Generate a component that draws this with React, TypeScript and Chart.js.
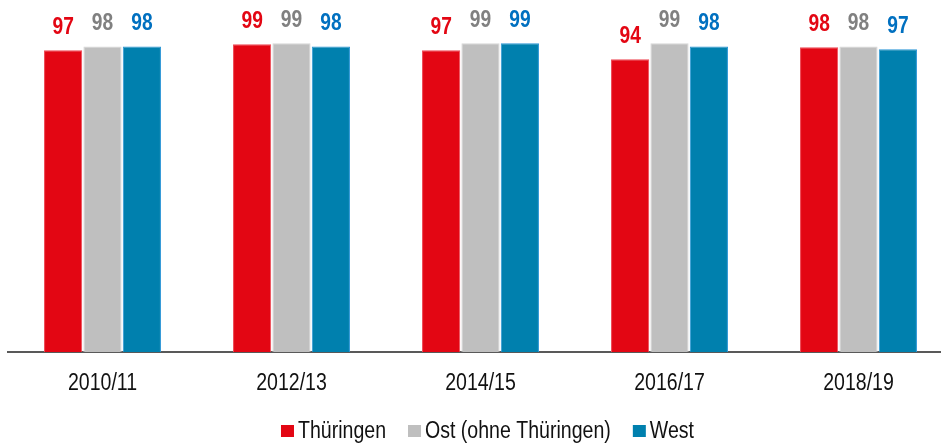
import React, { useEffect, useRef } from "react";
import { Chart, registerables } from "chart.js";

Chart.register(...registerables);

// ---- data ----
const categories = ["2010/11", "2012/13", "2014/15", "2016/17", "2018/19"];
const seriesNames = ["Thüringen", "Ost (ohne Thüringen)", "West"];
const thueringen = [96.9, 98.8, 96.9, 94.0, 97.8];
const ost = [98.1, 99.1, 99.1, 99.1, 98.1];
const west = [98.1, 98.1, 99.1, 98.1, 97.2];
const xTickPositions = [0, 1, 2, 3, 4];

// ---- styles ----
const FONT = '"Liberation Sans Narrow", "Arial Narrow", "Liberation Sans", Arial, sans-serif';
const barColors = ["#e30613", "#bfbfbf", "#0080ae"];
const borderColors = ["#ee4a55", "#d6d6d6", "#2a95d6"];
const labelColors = ["#e30613", "#808080", "#0070c0"];
const W = 941;
const H = 443;
const NARROW_TEXT = 0.85;
const NARROW_BOLD = 0.8;

function narrowText(ctx: any, text: string, x: number, y: number, sx: number) {
  ctx.save();
  ctx.translate(x, y);
  ctx.scale(sx, 1);
  ctx.fillText(text, 0, 0);
  ctx.restore();
}

const valueLabelPlugin = {
  id: "valueLabels",
  afterDatasetsDraw(chart: any) {
    const ctx = chart.ctx;
    ctx.save();
    ctx.font = `bold 24px ${FONT}`;
    ctx.textAlign = "center";
    ctx.textBaseline = "alphabetic";
    chart.data.datasets.forEach((ds: any, di: number) => {
      const meta = chart.getDatasetMeta(di);
      meta.data.forEach((el: any, i: number) => {
        const v = ds.data[i].y;
        ctx.fillStyle = labelColors[di];
        narrowText(ctx, String(Math.round(v)), el.x, el.y - 16, NARROW_BOLD);
      });
    });
    ctx.restore();
  },
};

const xLabelPlugin = {
  id: "xLabels",
  afterDraw(chart: any) {
    const ctx = chart.ctx;
    const xs = chart.scales.x;
    ctx.save();
    ctx.font = `23px ${FONT}`;
    ctx.textAlign = "center";
    ctx.textBaseline = "alphabetic";
    ctx.fillStyle = "#111";
    xTickPositions.forEach((p, i) => {
      narrowText(ctx, categories[i], xs.getPixelForValue(p), 390, NARROW_TEXT);
    });
    ctx.restore();
  },
};

const legendPlugin = {
  id: "customLegend",
  afterDraw(chart: any) {
    const ctx = chart.ctx;
    ctx.save();
    ctx.font = `23px ${FONT}`;
    ctx.textBaseline = "alphabetic";
    ctx.textAlign = "left";
    const box = 13;
    const boxH = 12;
    const gap = 4;
    const spacing = 22;
    const widths = seriesNames.map((n) => box + gap + ctx.measureText(n).width * NARROW_TEXT);
    const total = widths.reduce((a, b) => a + b, 0) + spacing * (seriesNames.length - 1);
    let x = 487.5 - total / 2;
    const baseline = 438.3;
    seriesNames.forEach((n, i) => {
      ctx.fillStyle = barColors[i];
      ctx.fillRect(x, 425, box, boxH);
      ctx.fillStyle = "#111";
      narrowText(ctx, n, x + box + gap, baseline, NARROW_TEXT);
      x += widths[i] + spacing;
    });
    ctx.restore();
  },
};

export default function App() {
  const ref = useRef<HTMLCanvasElement | null>(null);

  useEffect(() => {
    if (!ref.current) return;
    const seriesValues = [thueringen, ost, west];
    const chart = new Chart(ref.current, {
      type: "bar",
      data: {
        datasets: seriesNames.map((name, di) => ({
          label: name,
          data: seriesValues[di].map((v, i) => ({ x: xTickPositions[i], y: v })),
          backgroundColor: barColors[di],
          borderColor: borderColors[di],
          borderWidth: 1,
          categoryPercentage: 0.625,
          barPercentage: 0.97,
        })),
      },
      options: {
        responsive: false,
        animation: false,
        layout: { padding: { top: 40.5, left: 8, right: 0, bottom: 0 } },
        plugins: {
          legend: { display: false },
          tooltip: { enabled: false },
        },
        scales: {
          x: {
            type: "linear",
            min: -0.5,
            max: -0.5 + 933 / 189,
            offset: false,
            grid: { display: false, drawTicks: false },
            border: { display: true, color: "#595959", width: 2 },
            ticks: { display: false },
            afterBuildTicks: (s: any) => {
              s.ticks = xTickPositions.map((v) => ({ value: v }));
            },
            afterFit: (s: any) => {
              s.height = 91;
            },
          },
          y: {
            display: false,
            min: 0,
            max: 100,
          },
        },
      },
      plugins: [valueLabelPlugin, xLabelPlugin, legendPlugin],
    });
    return () => chart.destroy();
  }, []);

  return (
    <div style={{ position: "absolute", left: 0, top: 0, width: W, height: H, overflow: "hidden", background: "#fff" }}>
      <canvas ref={ref} width={W} height={H} style={{ display: "block", width: W, height: H }} />
    </div>
  );
}
